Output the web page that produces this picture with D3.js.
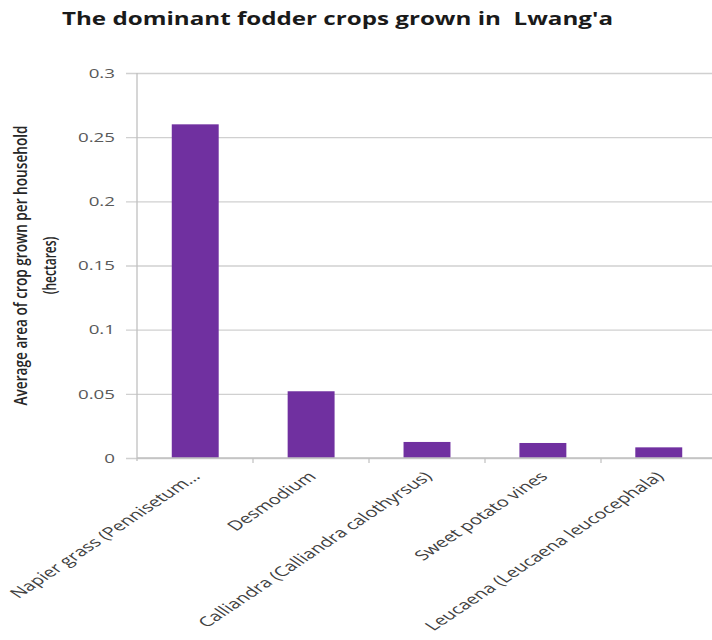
<!DOCTYPE html>
<html>
<head>
<meta charset="utf-8">
<script src="https://cdn.jsdelivr.net/npm/d3@7"></script>
<style>
  html, body { margin: 0; padding: 0; background: #fff; }
  svg { display: block; }
</style>
</head>
<body>
<svg id="chart" width="712" height="640"></svg>
<script>
// Fodder crops and the average area grown per household (ha)
const crops = [
  "Napier grass (Pennisetum\u2026",
  "Desmodium",
  "Calliandra (Calliandra calothyrsus)",
  "Sweet potato vines",
  "Leucaena (Leucaena leucocephala)"
];
const areaHa = [0.26, 0.052, 0.0125, 0.0117, 0.0083];
const yTicks = [0, 0.05, 0.1, 0.15, 0.2, 0.25, 0.3];
const yTickLabels = ["0", "0.05", "0.1", "0.15", "0.2", "0.25", "0.3"];

const titleText = "The dominant fodder crops grown in \u00a0Lwang'a";
const yTitleLines = ["Average area of crop grown per household", "(hectares)"];

// text in this chart is drawn horizontally widened
const SX = 1.5;

const svg = d3.select("#chart");
const plotLeft = 137, plotRight = 717, plotTop = 73, plotBottom = 458;

const x = d3.scaleBand().domain(crops).range([plotLeft, plotRight])
  .paddingInner(0.595).paddingOuter(0.3);
const xCat = d3.scaleBand().domain(crops).range([plotLeft, plotRight]).padding(0);
const y = d3.scaleLinear().domain([0, 0.3]).range([plotBottom, plotTop]);

// horizontal gridlines with left tick marks
const yAxis = d3.axisLeft(y)
  .tickValues(yTicks)
  .tickSize(-(plotRight - plotLeft))
  .tickSizeOuter(0)
  .tickFormat((d, i) => yTickLabels[i]);

const gy = svg.append("g")
  .attr("transform", `translate(${plotLeft},0)`)
  .call(yAxis);
gy.select(".domain").remove();
gy.selectAll(".tick line")
  .attr("x1", -11)
  .attr("stroke", "#d0d0d0")
  .attr("stroke-width", 1.3);
gy.selectAll(".tick text")
  .attr("x", null)
  .attr("transform", `translate(-22,0) scale(${SX},1)`)
  .attr("dy", "0.34em")
  .attr("fill", "#595959")
  .attr("font-family", "'Open Sans', sans-serif")
  .attr("font-size", 12.5);

// bars
svg.append("g").selectAll("rect")
  .data(crops)
  .join("rect")
  .attr("x", d => x(d))
  .attr("width", x.bandwidth())
  .attr("y", (d, i) => y(areaHa[i]))
  .attr("height", (d, i) => y(0) - y(areaHa[i]))
  .attr("fill", "#7030a0");

// vertical axis line
svg.append("line")
  .attr("x1", plotLeft).attr("x2", plotLeft)
  .attr("y1", y(0.3)).attr("y2", y(0) + 3)
  .attr("stroke", "#c0c0c0").attr("stroke-width", 1.3);

// category axis with boundary tick marks
const boundaries = crops.slice(1).map(c => xCat(c));
const gx = svg.append("g");
gx.append("line")
  .attr("x1", plotLeft).attr("x2", plotRight)
  .attr("y1", y(0)).attr("y2", y(0))
  .attr("stroke", "#c0c0c0").attr("stroke-width", 1.3);
gx.selectAll("line.tk")
  .data(boundaries)
  .join("line")
  .attr("class", "tk")
  .attr("x1", d => d).attr("x2", d => d)
  .attr("y1", y(0)).attr("y2", y(0) + 5)
  .attr("stroke", "#c0c0c0").attr("stroke-width", 1.2);

// slanted category labels
svg.append("g").selectAll("text")
  .data(crops)
  .join("text")
  .attr("transform", d => `translate(${x(d) + x.bandwidth() / 2 + 1},${y(0) + 16}) scale(${SX},1) rotate(-45)`)
  .attr("text-anchor", "end")
  .attr("dy", "0.35em")
  .attr("fill", "#404040")
  .attr("font-family", "'Open Sans', sans-serif")
  .attr("font-size", 13.5)
  .text(d => d);

// vertical axis title, two lines
const yTitle = svg.append("g")
  .attr("transform", `translate(21,${(plotTop + plotBottom) / 2}) scale(${SX},1) rotate(-90)`);
yTitle.selectAll("text")
  .data(yTitleLines)
  .join("text")
  .attr("x", 0)
  .attr("y", (d, i) => i * 19.3)
  .attr("dy", "0.35em")
  .attr("text-anchor", "middle")
  .attr("fill", "#262626")
  .attr("font-family", "'Open Sans', sans-serif")
  .attr("font-weight", 600)
  .attr("font-size", 12)
  .attr("textLength", (d, i) => i === 0 ? 280 : null)
  .attr("lengthAdjust", "spacingAndGlyphs")
  .text(d => d);

// chart title
svg.append("text")
  .attr("x", 62)
  .attr("y", 25)
  .attr("fill", "#1a1a1a")
  .attr("font-family", "'Open Sans', sans-serif")
  .attr("font-weight", 700)
  .attr("font-size", 17.5)
  .attr("textLength", 551)
  .attr("lengthAdjust", "spacingAndGlyphs")
  .text(titleText);
</script>
</body>
</html>
